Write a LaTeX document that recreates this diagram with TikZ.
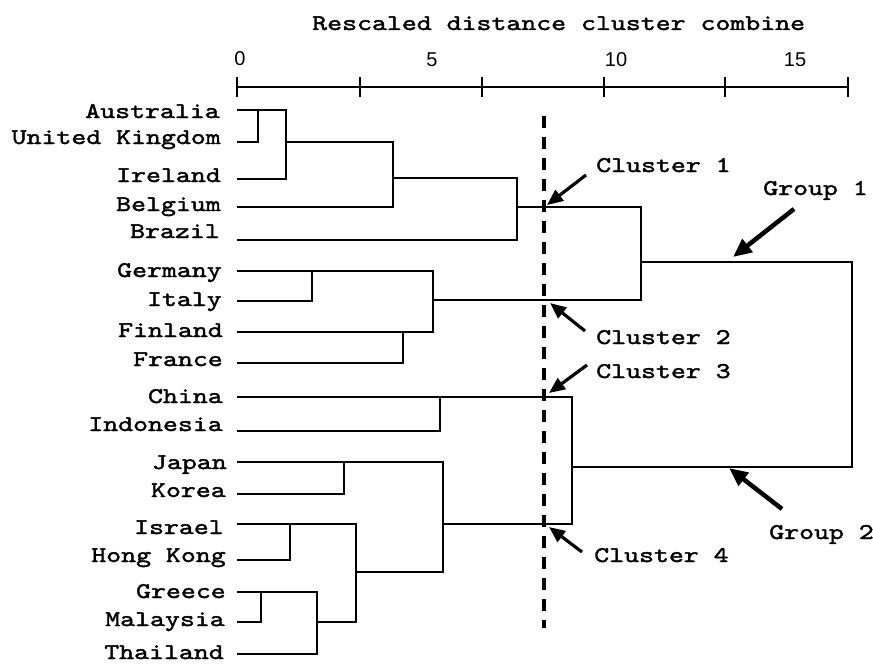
\documentclass[tikz,border=0pt]{standalone}
\usepackage{fontspec}
\usetikzlibrary{arrows.meta}
\newfontfamily\courfont{lmmono10-regular.otf}[FakeStretch=1.27, FakeBold=1.8]
\newfontfamily\numfont{Liberation Sans}
\tikzset{
  tree/.style={line width=1.9pt, line join=miter, line cap=rect},
  axisline/.style={line width=1.5pt},
  leaf/.style={anchor=base east, inner sep=0pt, font=\courfont\fontsize{16.8pt}{20pt}\selectfont},
  note/.style={anchor=base west, inner sep=0pt, font=\courfont\fontsize{16.8pt}{20pt}\selectfont},
  ticklabel/.style={anchor=base, inner sep=0pt, font=\numfont\fontsize{15pt}{18pt}\selectfont},
  cutline/.style={line width=2.3pt, dash pattern=on 9pt off 6.75pt},
  clarrow/.style={line width=2.4pt, -{Triangle[length=12pt,width=10pt]}},
  grarrow/.style={line width=3.4pt, -{Triangle[length=14pt,width=12pt]}}
}
\begin{document}
\begin{tikzpicture}[x=0.75pt,y=-0.75pt]
\useasboundingbox (0,0) rectangle (873,663);

% title and scale
\node[note] (title) at (312,30) {Rescaled distance cluster combine};
\coordinate (ax0) at (237,87);
\coordinate (ax1) at (848,87);
\draw[axisline] (ax0) -- (ax1);
\foreach \tx in {237,360,482,604,725,848}
  \draw[axisline] (\tx,77) -- (\tx,97);
\node[ticklabel] (t0) at (240,66) {0};
\node[ticklabel] (t5) at (432,67) {5};
\node[ticklabel] (t10) at (616,67) {10};
\node[ticklabel] (t15) at (795,67) {15};

% leaf labels
\node[leaf] (lAus) at (220,118) {Australia};
\node[leaf] (lUK)  at (221,144) {United Kingdom};
\node[leaf] (lIre) at (221,182) {Ireland};
\node[leaf] (lBel) at (221,211) {Belgium};
\node[leaf] (lBra) at (220,238) {Brazil};
\node[leaf] (lGer) at (222,277) {Germany};
\node[leaf] (lIta) at (222,306) {Italy};
\node[leaf] (lFin) at (223,337) {Finland};
\node[leaf] (lFra) at (223,366) {France};
\node[leaf] (lChi) at (223,403) {China};
\node[leaf] (lIdn) at (223,431) {Indonesia};
\node[leaf] (lJap) at (227,469) {Japan};
\node[leaf] (lKor) at (226,497) {Korea};
\node[leaf] (lIsr) at (224,534) {Israel};
\node[leaf] (lHK)  at (226,562) {Hong Kong};
\node[leaf] (lGre) at (226,598) {Greece};
\node[leaf] (lMal) at (225,626) {Malaysia};
\node[leaf] (lTha) at (224,659) {Thailand};

% dendrogram
\draw[tree] (238,110) -- (286,110) -- (286,179) -- (238,179);
\draw[tree] (238,142) -- (258,142) -- (258,110);
\draw[tree] (286,142) -- (393,142) -- (393,207) -- (238,207);
\draw[tree] (393,178) -- (517,178) -- (517,240) -- (238,240);
\draw[tree] (517,207) -- (641,207) -- (641,300) -- (433,300);
\draw[tree] (641,262) -- (852,262) -- (852,467) -- (572,467);
\draw[tree] (238,271) -- (433,271) -- (433,332) -- (238,332);
\draw[tree] (238,301) -- (312,301) -- (312,271);
\draw[tree] (238,363) -- (403,363) -- (403,332);
\draw[tree] (238,397) -- (572,397) -- (572,524) -- (443,524);
\draw[tree] (238,431) -- (440,431) -- (440,397);
\draw[tree] (238,462) -- (443,462) -- (443,572) -- (356,572);
\draw[tree] (238,494) -- (344,494) -- (344,462);
\draw[tree] (238,524) -- (356,524) -- (356,622) -- (317,622);
\draw[tree] (238,560) -- (290,560) -- (290,524);
\draw[tree] (238,592) -- (317,592) -- (317,654) -- (238,654);
\draw[tree] (238,622) -- (261,622) -- (261,592);

% cut line
\coordinate (cutTop) at (544,116);
\coordinate (cutBot) at (544,628);
\draw[cutline] (cutTop) -- (cutBot);

% annotations
\node[note] (c1) at (596,172) {Cluster 1};
\node[note] (c2) at (596,344) {Cluster 2};
\node[note] (c3) at (596,378) {Cluster 3};
\node[note] (c4) at (594,562) {Cluster 4};
\node[note] (g1) at (763,195) {Group 1};
\node[note] (g2) at (769,539) {Group 2};

\coordinate (c1t) at (586,175);  \coordinate (c1h) at (547,205);
\coordinate (c2t) at (585,331);  \coordinate (c2h) at (550,303);
\coordinate (c3t) at (587,365);  \coordinate (c3h) at (549,393);
\coordinate (c4t) at (582,552);  \coordinate (c4h) at (549,527);
\coordinate (g1t) at (794,209);  \coordinate (g1h) at (733,257);
\coordinate (g2t) at (782,509);  \coordinate (g2h) at (729,468);
\draw[clarrow] (c1t) -- (c1h);
\draw[clarrow] (c2t) -- (c2h);
\draw[clarrow] (c3t) -- (c3h);
\draw[clarrow] (c4t) -- (c4h);
\draw[grarrow] (g1t) -- (g1h);
\draw[grarrow] (g2t) -- (g2h);
\end{tikzpicture}
\end{document}
